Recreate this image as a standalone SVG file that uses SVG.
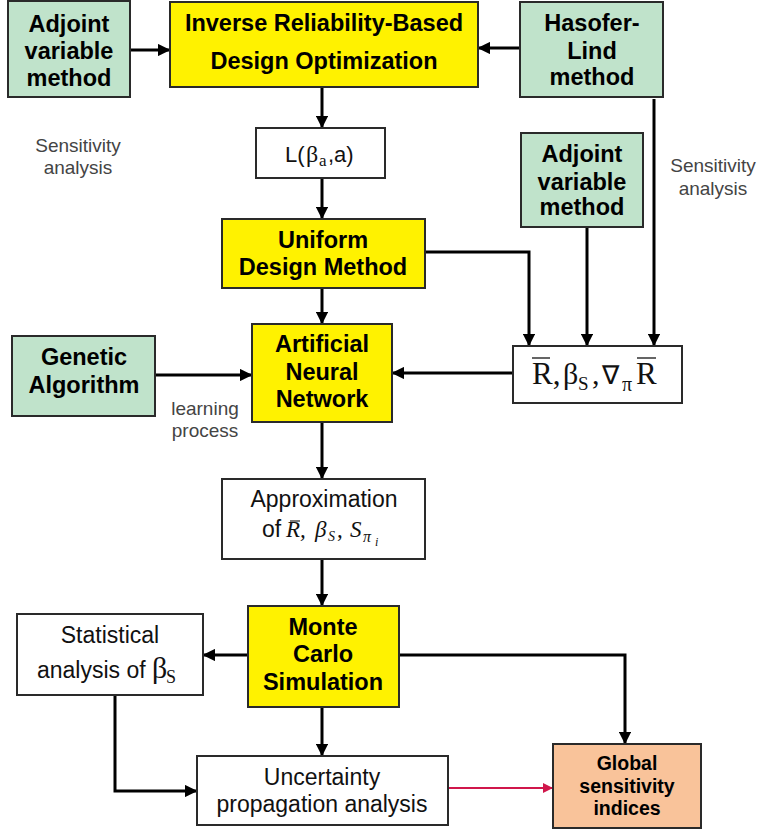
<svg xmlns="http://www.w3.org/2000/svg" width="758" height="832" viewBox="0 0 758 832">
<defs>
<marker id="ah" viewBox="0 0 10 10" refX="9" refY="5" markerWidth="4.2" markerHeight="4.2" orient="auto" markerUnits="strokeWidth"><path d="M0,0 L10,5 L0,10 z" fill="#000"/></marker>
<marker id="ahr" viewBox="0 0 10 10" refX="9" refY="5" markerWidth="5" markerHeight="5" orient="auto" markerUnits="strokeWidth"><path d="M0,0 L10,5 L0,10 z" fill="#d0174b"/></marker>
<style>
.g{fill:#c0e3cb;stroke:#2a2a2a;stroke-width:2}
.y{fill:#fff200;stroke:#2a2a2a;stroke-width:2}
.w{fill:#fff;stroke:#2a2a2a;stroke-width:2}
.o{fill:#f9c39a;stroke:#2a2a2a;stroke-width:2}
.b{font-family:"Liberation Sans",Arial,sans-serif;font-weight:bold;font-size:23.5px;fill:#000;text-anchor:middle}
.r{font-family:"Liberation Sans",Arial,sans-serif;font-size:23px;fill:#111;text-anchor:middle}
.s{font-family:"Liberation Sans",Arial,sans-serif;font-size:19px;fill:#444;text-anchor:middle}
.m{font-family:"Liberation Serif","Times New Roman",serif;fill:#111}
.ol{stroke:#111;stroke-width:1.3}
.c path{fill:none;stroke:#000;stroke-width:3;marker-end:url(#ah)}
</style>
</defs>
<g class="c">
<path d="M130,50 H169"/>
<path d="M520,48 H479"/>
<path d="M322,88 V127"/>
<path d="M322,178 V218"/>
<path d="M322,288 V323"/>
<path d="M425,252 H529 V345"/>
<path d="M587,227 V345"/>
<path d="M654,99 V345"/>
<path d="M513,373 H393"/>
<path d="M155,375 H251"/>
<path d="M322,422 V478"/>
<path d="M322,559 V605"/>
<path d="M248,655 H204"/>
<path d="M399,655 H625 V743"/>
<path d="M322,707 V755"/>
<path d="M115,695 V791 H196"/>
<path d="M448,788 H552" style="stroke:#d0174b;stroke-width:2;marker-end:url(#ahr)"/>
</g>
<g id="adjoint1"><rect class="g" x="8" y="1" width="122" height="96"/><text class="b" x="69" y="32">Adjoint</text><text class="b" x="69" y="59">variable</text><text class="b" x="69" y="86">method</text></g>
<g id="irbdo"><rect class="y" x="170" y="2" width="308" height="85"/><text class="b" x="324" y="31">Inverse Reliability-Based</text><text class="b" x="324" y="69">Design Optimization</text></g>
<g id="hasofer"><rect class="g" x="520" y="2" width="143" height="95"/><text class="b" x="592" y="31">Hasofer-</text><text class="b" x="592" y="59">Lind</text><text class="b" x="592" y="85">method</text></g>
<g id="sens1"><text class="s" x="78" y="152">Sensitivity</text><text class="s" x="78" y="174">analysis</text></g>
<g id="lbox"><rect class="w" x="256" y="128" width="129" height="50"/><text x="285" y="162" style="font-family:'Liberation Sans',Arial,sans-serif;font-size:22px;fill:#111">L(</text><text class="m" x="306" y="162" style="font-size:24px">β</text><text class="m" x="319" y="166" style="font-size:17px">a</text><text x="328" y="162" style="font-family:'Liberation Sans',Arial,sans-serif;font-size:22px;fill:#111">,a)</text></g>
<g id="adjoint2"><rect class="g" x="521" y="133" width="122" height="94"/><text class="b" x="582" y="162">Adjoint</text><text class="b" x="582" y="190">variable</text><text class="b" x="582" y="215">method</text></g>
<g id="sens2"><text class="s" x="713" y="172">Sensitivity</text><text class="s" x="713" y="195">analysis</text></g>
<g id="udm"><rect class="y" x="222" y="219" width="203" height="69"/><text class="b" x="323" y="248">Uniform</text><text class="b" x="323" y="275">Design Method</text></g>
<g id="ann"><rect class="y" x="252" y="324" width="140" height="98"/><text class="b" x="322" y="352">Artificial</text><text class="b" x="322" y="380">Neural</text><text class="b" x="322" y="407">Network</text></g>
<g id="ga"><rect class="g" x="12" y="336" width="143" height="80"/><text class="b" x="84" y="365">Genetic</text><text class="b" x="84" y="393">Algorithm</text></g>
<g id="learn"><text class="s" x="205" y="415">learning</text><text class="s" x="205" y="437">process</text></g>
<g id="rbox"><rect class="w" x="513" y="346" width="169" height="57"/>
<text class="m" x="532" y="384" style="font-size:31px">R,</text>
<text class="m" x="563" y="384" style="font-size:30px">β</text>
<text class="m" x="578" y="390" style="font-size:19px">S</text>
<text class="m" x="592" y="384" style="font-size:30px">,</text>
<text class="m" x="602" y="384" style="font-size:26px">∇</text>
<text class="m" x="622" y="391" style="font-size:20px">π</text>
<text class="m" x="636" y="384" style="font-size:31px">R</text>
<line class="ol" x1="532" y1="358" x2="550" y2="358"/><line class="ol" x1="637" y1="358" x2="656" y2="358"/></g>
<g id="approx"><rect class="w" x="222" y="479" width="203" height="80"/><text class="r" x="324" y="507">Approximation</text>
<text x="262" y="537" style="font-family:'Liberation Sans',Arial,sans-serif;font-size:23px;fill:#111">of</text>
<text class="m" x="286" y="537" style="font-size:23px;font-style:italic">R,</text>
<text class="m" x="315" y="537" style="font-size:23px;font-style:italic">β</text>
<text class="m" x="328" y="541" style="font-size:14px;font-style:italic">S</text>
<text class="m" x="337" y="537" style="font-size:23px">,</text>
<text class="m" x="350" y="537" style="font-size:23px;font-style:italic">S</text>
<text class="m" x="363" y="542" style="font-size:16px;font-style:italic">π</text>
<text class="m" x="375" y="546" style="font-size:12px;font-style:italic">i</text>
<line x1="290" y1="521" x2="300" y2="521" stroke="#111" stroke-width="1.1"/></g>
<g id="mc"><rect class="y" x="248" y="606" width="151" height="101"/><text class="b" x="323" y="635">Monte</text><text class="b" x="323" y="662">Carlo</text><text class="b" x="323" y="690">Simulation</text></g>
<g id="stat"><rect class="w" x="17" y="614" width="186" height="81"/><text class="r" x="110" y="643">Statistical</text><text x="37" y="678" style="font-family:'Liberation Sans',Arial,sans-serif;font-size:23px;fill:#111">analysis of</text><text class="m" x="152" y="678" style="font-size:30px">β</text><text class="m" x="166" y="683" style="font-size:18px">S</text></g>
<g id="unc"><rect class="w" x="197" y="756" width="251" height="69"/><text class="r" x="322" y="785">Uncertainty</text><text class="r" x="322" y="812">propagation analysis</text></g>
<g id="global"><rect class="o" x="553" y="744" width="148" height="84"/><text class="b" x="627" y="770" style="font-size:19.5px">Global</text><text class="b" x="627" y="793" style="font-size:19.5px">sensitivity</text><text class="b" x="627" y="815" style="font-size:19.5px">indices</text></g>
</svg>
